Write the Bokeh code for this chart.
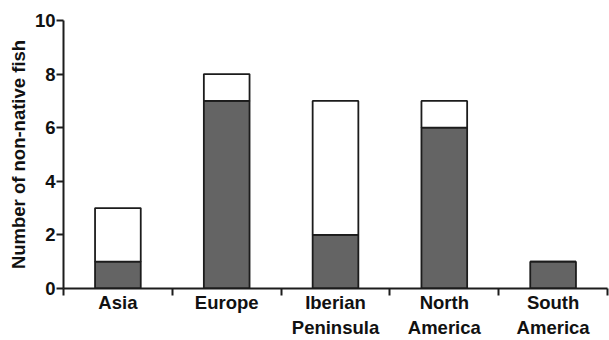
from bokeh.plotting import figure
from bokeh.models import FixedTicker, ColumnDataSource, Range1d
from bokeh.embed import file_html
from bokeh.resources import INLINE

categories = ["Asia", "Europe", "Iberian\nPeninsula", "North\nAmerica", "South\nAmerica"]
dark_values = [1, 7, 2, 6, 1]
light_values = [2, 1, 5, 1, 0]
y_ticks = [0, 2, 4, 6, 8, 10]

n = len(categories)
xs = [i + 0.5 for i in range(n)]
src = ColumnDataSource(dict(x=xs, dark=dark_values, light=light_values))

FONT = "Liberation Sans"
INK = "#1c1c1c"
TXT = "#111111"
FS = "18.5px"

p = figure(width=609, height=340, output_backend="svg", toolbar_location=None,
           x_range=Range1d(0, n), y_range=Range1d(0, 10),
           min_border_left=63, min_border_right=2, min_border_top=20, min_border_bottom=52)

p.vbar_stack(["dark", "light"], x="x", width=0.42, source=src,
             fill_color=["#646464", "#ffffff"], line_color=INK, line_width=1.8)

p.grid.visible = False
p.outline_line_color = None
p.background_fill_color = "white"
p.border_fill_color = "white"

xa = p.xaxis[0]
xa.ticker = FixedTicker(ticks=xs, minor_ticks=list(range(n + 1)))
xa.major_label_overrides = {x: c for x, c in zip(xs, categories)}
xa.major_tick_out = 0
xa.major_tick_in = 0
xa.minor_tick_out = 7
xa.minor_tick_in = 0
xa.minor_tick_line_color = INK
xa.minor_tick_line_width = 2
xa.axis_line_color = INK
xa.axis_line_width = 2
xa.major_label_text_font = FONT
xa.major_label_text_font_style = "bold"
xa.major_label_text_font_size = FS
xa.major_label_text_color = TXT
xa.major_label_standoff = -4
xa.major_label_text_line_height = 1.2

ya = p.yaxis[0]
ya.ticker = FixedTicker(ticks=y_ticks, minor_ticks=[])
ya.major_tick_out = 7
ya.major_tick_in = 0
ya.major_tick_line_color = INK
ya.major_tick_line_width = 2
ya.axis_line_color = INK
ya.axis_line_width = 2
ya.major_label_text_font = FONT
ya.major_label_text_font_style = "bold"
ya.major_label_text_font_size = FS
ya.major_label_text_color = TXT
ya.major_label_standoff = 1
ya.axis_label = "Number of non-native fish"
ya.axis_label_text_font = FONT
ya.axis_label_text_font_style = "bold"
ya.axis_label_text_font_size = FS
ya.axis_label_text_color = TXT
ya.axis_label_standoff = 3

open("out.html", "w").write(file_html(p, INLINE))
